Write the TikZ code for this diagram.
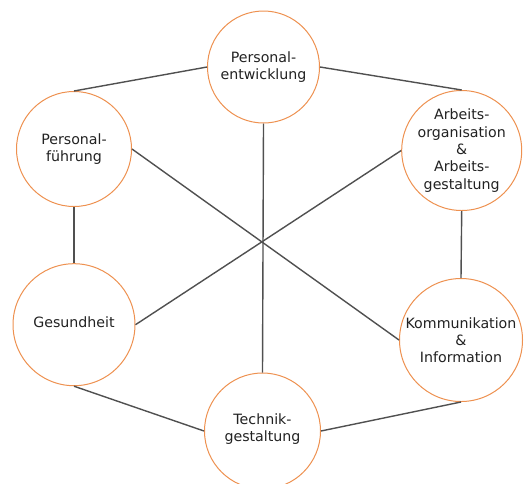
\documentclass[tikz,border=0pt]{standalone}
\usepackage{fontspec}
\setmainfont{DejaVu Sans}
\definecolor{ringc}{HTML}{EE9150}
\definecolor{linec}{HTML}{505050}
\definecolor{txtc}{HTML}{222222}
\tikzset{
  ring/.style={circle, draw=ringc, line width=1pt, fill=white, inner sep=0pt, minimum size=#1},
  lbl/.style={align=center, text=txtc, font=\fontsize{14.2}{17.3}\selectfont, inner sep=0pt},
  conn/.style={draw=linec, line width=1.4pt}
}
\begin{document}
\begin{tikzpicture}[x=1pt,y=-1pt]
\useasboundingbox (0,0) rectangle (526,483);
\node[ring=112pt] (pe) at (263.5,67) {};
\node[ring=115pt] (pf) at (74,149) {};
\node[ring=120pt] (ao) at (461.7,150.5) {};
\node[ring=122pt] (ge) at (74,324.7) {};
\node[ring=123pt] (ki) at (461,340) {};
\node[ring=116pt] (tg) at (262.5,431) {};
\draw[conn] (pe.west) -- (pf.north);
\draw[conn] (pe.east) -- (ao.north);
\draw[conn] (pf.south) -- (ge.north);
\draw[conn] (ao.south) -- (ki.north);
\draw[conn] (ge.south) -- (tg.west);
\draw[conn] (ki.south) -- (tg.east);
\draw[conn] (pf.east) -- (ki.west);
\draw[conn] (ao.west) -- (ge.east);
\draw[conn] (pe.south) -- (tg.north);
\node[lbl] (tpe) at (pe.center) {Personal-\\entwicklung};
\node[lbl] (tpf) at (pf.center) {Personal-\\führung};
\node[lbl] (tao) at (ao.center) {Arbeits-\\organisation\\\&\\Arbeits-\\gestaltung};
\node[lbl] (tge) at (74,322.5) {Gesundheit};
\node[lbl] (tki) at (ki.center) {Kommunikation\\\&\\Information};
\node[lbl] (ttg) at (262.5,429) {Technik-\\gestaltung};
\end{tikzpicture}
\end{document}
